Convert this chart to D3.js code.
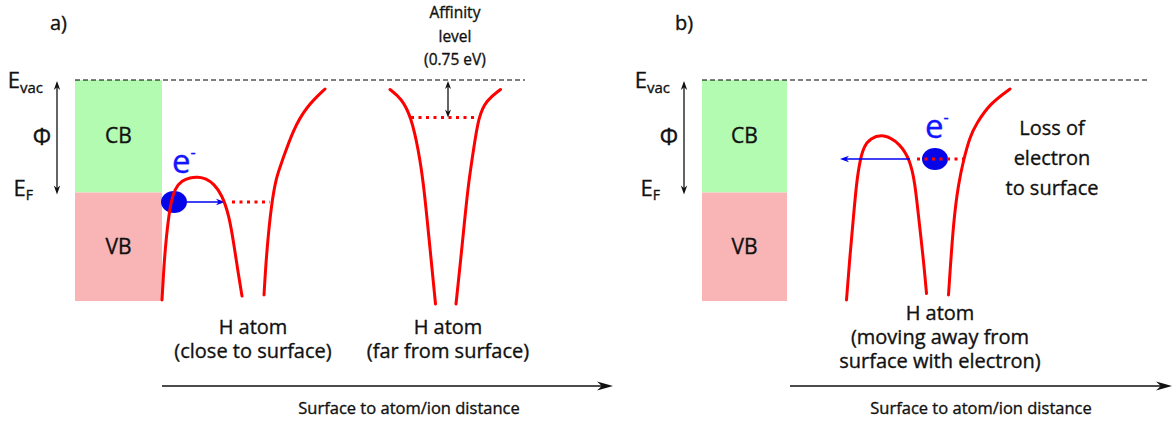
<!DOCTYPE html>
<html>
<head>
<meta charset="utf-8">
<script src="https://cdn.jsdelivr.net/npm/d3@7"></script>
<style>
  html, body { margin: 0; padding: 0; background: #fff; }
  svg { display: block; font-family: "Open Sans", sans-serif; }
  text { stroke-width: 0.35px; paint-order: stroke; }
</style>
</head>
<body>
<svg id="chart" width="1176" height="421"></svg>
<script>
// Energies in eV measured from the vacuum level; distances in arbitrary units from the surface.
const vacuumLevel = 0;
const fermiLevel = -2.25;
const bandFloor = -4.42;
const bandNames = ["CB", "VB"];
const bandTops = [vacuumLevel, fermiLevel];
const bandBottoms = [fermiLevel, bandFloor];
const affinity = 0.75;                       // H affinity level below vacuum (eV)

// Panel a: atom close to the surface (barrier + well) and far from it
const nearBarrierA = [[0, -4.4], [0.04, -3.7], [0.08, -3.2], [0.16, -2.5], [0.26, -2.16], [0.4, -2.01],
  [0.56, -1.95], [0.72, -1.94], [0.88, -1.97], [1.04, -2.08], [1.2, -2.3], [1.34, -2.7],
  [1.44, -3.3], [1.53, -3.9], [1.6, -4.32]];
const nearWallA = [[2.04, -4.3], [2.09, -3.46], [2.19, -2.46], [2.29, -1.93], [2.39, -1.66],
  [2.62, -1.0], [2.89, -0.53], [3.26, -0.18]];
const farLeftA = [[4.56, -0.19], [4.79, -0.37], [4.98, -0.73], [5.13, -1.4], [5.23, -2.06],
  [5.33, -3.06], [5.47, -4.48]];
const farRightA = [[6.77, -0.19], [6.49, -0.4], [6.33, -0.73], [6.23, -1.4], [6.13, -2.06],
  [6.06, -2.73], [5.96, -3.73], [5.88, -4.48]];
const shiftedLevelA = -2.44;                 // level of the atom near the surface
const shiftedSpanA = [1.4, 2.16];
const affinitySpanA = [4.98, 6.33];
const affinityArrowA = 5.72;
const electronA = [0.24, -2.44];
const transferA = [0.5, 1.26];

// Panel b: atom leaving the surface
const nearBarrierB = [[1.19, -4.4], [1.26, -3.5], [1.33, -2.73], [1.39, -2.06], [1.46, -1.6],
  [1.54, -1.33], [1.66, -1.17], [1.93, -1.07], [2.26, -1.27], [2.46, -1.6], [2.56, -2.06],
  [2.63, -2.73], [2.73, -3.6], [2.79, -4.27]];
const nearWallB = [[3.23, -4.3], [3.33, -2.8], [3.43, -2.07], [3.53, -1.6], [3.66, -1.13],
  [3.79, -0.87], [4.06, -0.47], [4.46, -0.18]];
const levelB = -1.58;
const levelSpanB = [2.6, 3.52];
const electronB = [2.96, -1.58];
const transferB = [2.46, 1.06];

// Text
const panelTags = ["a)", "b)"];
const affinityLines = ["Affinity", "level", "(" + affinity + " eV)"];
const nearLinesA = ["H atom", "(close to surface)"];
const farLinesA = ["H atom", "(far from surface)"];
const movingLinesB = ["H atom", "(moving away from", "surface with electron)"];
const lossLinesB = ["Loss of", "electron", "to surface"];
const axisTitle = "Surface to atom/ion distance";

// ---------------------------------------------------------------------------
const svg = d3.select("#chart");
const RED = "#ff0000", BLUE = "#0000f0", INK = "#111";

const y = d3.scaleLinear().domain([0, -4.4]).range([80, 300]);

const panels = [
  { tag: panelTags[0], x: d3.scaleLinear().domain([0, 9]).range([162, 612]),
    metal: -1.74, axisFrom: 0, axisTo: 9.02, tagX: 50, captionD: 4.94 },
  { tag: panelTags[1], x: d3.scaleLinear().domain([0, 7.7]).range([787, 1172]),
    metal: -1.7, axisFrom: 0.06, axisTo: 7.7, tagX: 675, captionD: 3.88 }
];

const curve = (xs) => d3.line().x(d => xs(d[0])).y(d => y(d[1])).curve(d3.curveBasis);

// stealth-style arrow head with its tip at (tx, ty) pointing along angle a
function head(g, tx, ty, a, len, half, color) {
  const c = Math.cos(a), s = Math.sin(a);
  const pt = (u, v) => [tx - u * c - v * s, ty - u * s + v * c];
  const p = [pt(0, 0), pt(len, half), pt(len * 0.7, 0), pt(len, -half)];
  g.append("path").attr("d", "M" + p.map(q => q.join(",")).join("L") + "Z").attr("fill", color);
}

function txt(g, x, yy, size, color) {
  return g.append("text").attr("x", x).attr("y", yy).attr("font-size", size)
    .attr("fill", color).attr("stroke", color);
}

function multiline(g, lines, cx, y0, step, size) {
  lines.forEach((l, i) => txt(g, cx, y0 + i * step, size, INK).attr("text-anchor", "middle").text(l));
}

panels.forEach((p, pi) => {
  const g = svg.append("g");
  const x = p.x;
  const line = curve(x);

  // metal bands
  const bandFill = ["#b3fbb0", "#f9b5b5"];
  bandNames.forEach((n, i) => {
    g.append("rect").attr("x", x(p.metal)).attr("y", y(bandTops[i]))
      .attr("width", x(0) - x(p.metal)).attr("height", y(bandBottoms[i]) - y(bandTops[i]))
      .attr("fill", bandFill[i]);
    txt(g, (x(0) + x(p.metal)) / 2, (y(bandTops[i]) + y(bandBottoms[i])) / 2 + 7, 21, INK)
      .attr("text-anchor", "middle").text(n);
  });

  // vacuum level
  g.append("line").attr("x1", x(p.metal)).attr("x2", x(7.26)).attr("y1", y(vacuumLevel)).attr("y2", y(vacuumLevel))
    .attr("stroke", "#000").attr("stroke-width", 1.1).attr("stroke-dasharray", "5 3");

  // work function arrow and labels
  const ax = x(p.metal) - 18;
  g.append("line").attr("x1", ax).attr("x2", ax).attr("y1", y(vacuumLevel) + 3).attr("y2", y(fermiLevel) - 1)
    .attr("stroke", INK).attr("stroke-width", 1.3);
  head(g, ax, y(vacuumLevel) + 1, -Math.PI / 2, 9, 3.2, INK);
  head(g, ax, y(fermiLevel) + 2, Math.PI / 2, 9, 3.2, INK);
  const ev = txt(g, ax - 14, y(vacuumLevel) + 8, 22, INK).attr("text-anchor", "end");
  ev.append("tspan").text("E");
  ev.append("tspan").attr("font-size", 15).attr("dy", 5).text("vac");
  txt(g, ax - 15, y(fermiLevel / 2) + 9, 23, INK).attr("text-anchor", "middle").text("Φ");
  const ef = txt(g, ax - 24, y(fermiLevel) + 3, 22, INK).attr("text-anchor", "end");
  ef.append("tspan").text("E");
  ef.append("tspan").attr("font-size", 14).attr("dy", 4).text("F");

  // panel tag
  txt(g, p.tagX, 30, 20, INK).text(p.tag);

  // distance axis
  g.append("line").attr("x1", x(p.axisFrom)).attr("x2", x(p.axisTo) - 8).attr("y1", 386).attr("y2", 386)
    .attr("stroke", INK).attr("stroke-width", 1.4);
  head(g, x(p.axisTo), 386, 0, 16, 4.5, INK);
  txt(g, x(p.captionD), 414, 16.5, INK).attr("text-anchor", "middle").text(axisTitle);

  const electronMark = (e, spanArrow, dir) => {
    g.append("ellipse").attr("cx", x(e[0])).attr("cy", y(e[1])).attr("rx", 13).attr("ry", 11).attr("fill", "#0505e8");
    g.append("line").attr("x1", x(spanArrow[0])).attr("x2", x(spanArrow[1]) - dir * 5)
      .attr("y1", y(e[1])).attr("y2", y(e[1])).attr("stroke", BLUE).attr("stroke-width", 1.4);
    head(g, x(spanArrow[1]), y(e[1]), dir > 0 ? 0 : Math.PI, 9, 3.2, BLUE);
  };
  const eLabel = (px, py) => {
    const t = txt(g, px, py, 33, "#1414ff");
    t.append("tspan").text("e");
    t.append("tspan").attr("font-size", 16).attr("dy", -15).text("-");
  };
  const dotted = (span, level) => g.append("line").attr("x1", x(span[0])).attr("x2", x(span[1]))
    .attr("y1", y(level)).attr("y2", y(level)).attr("stroke", RED).attr("stroke-width", 3)
    .attr("stroke-dasharray", "3 4.5");
  const red = (pts) => g.append("path").attr("d", line(pts)).attr("fill", "none")
    .attr("stroke", RED).attr("stroke-width", 3).attr("stroke-linecap", "round");

  if (pi === 0) {
    electronMark(electronA, transferA, 1);
    red(nearBarrierA); red(nearWallA); red(farLeftA); red(farRightA);
    dotted(shiftedSpanA, shiftedLevelA);
    dotted(affinitySpanA, -affinity);
    eLabel(x(electronA[0]) - 2, y(electronA[1]) - 29);

    // affinity double arrow
    const fx = x(affinityArrowA);
    g.append("line").attr("x1", fx).attr("x2", fx).attr("y1", y(vacuumLevel) + 4).attr("y2", y(-affinity) - 4)
      .attr("stroke", INK).attr("stroke-width", 1.3);
    head(g, fx, y(vacuumLevel) + 1, -Math.PI / 2, 8, 3, INK);
    head(g, fx, y(-affinity), Math.PI / 2, 8, 3, INK);
    multiline(g, affinityLines, x(5.86), 18, 23.5, 15.5);

    multiline(g, nearLinesA, x(1.82), 334, 24, 20);
    multiline(g, farLinesA, x(5.72), 334, 24, 20);
  } else {
    red(nearBarrierB); red(nearWallB);
    electronMark(electronB, transferB, -1);
    dotted(levelSpanB, levelB);
    eLabel(x(electronB[0]) - 10, y(electronB[1]) - 21);
    multiline(g, movingLinesB, x(3.06), 320, 24, 20);
    multiline(g, lossLinesB, x(5.3), 135, 30, 20);
  }
});
</script>
</body>
</html>
